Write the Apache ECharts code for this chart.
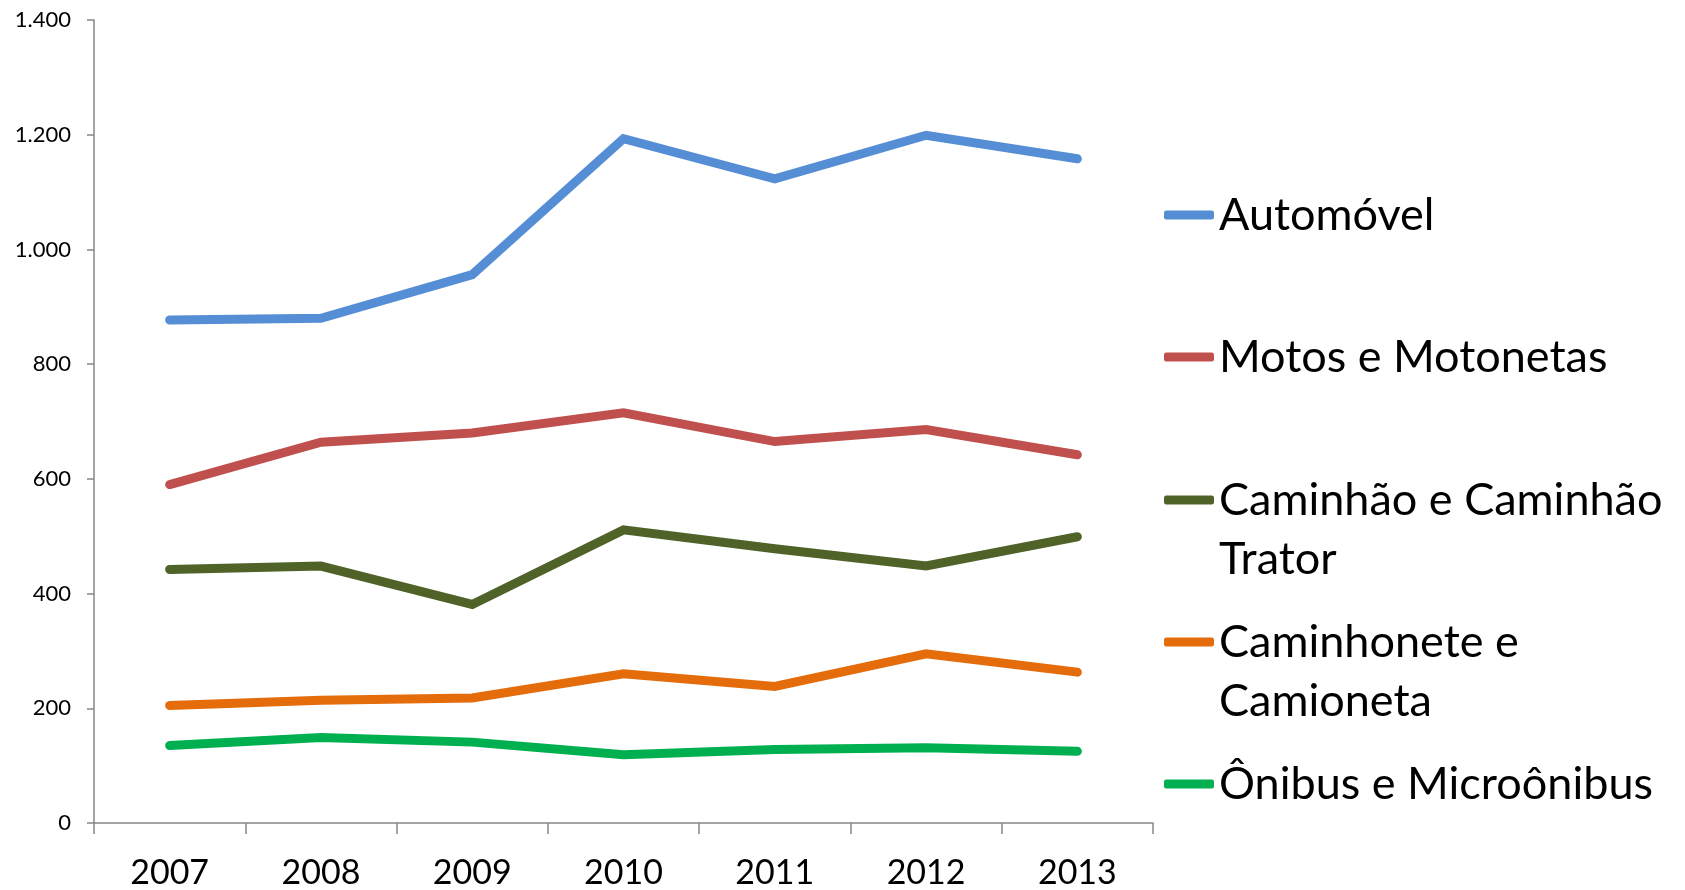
<!DOCTYPE html>
<html>
<head>
<meta charset="utf-8">
<script src="https://cdn.jsdelivr.net/npm/echarts@6/dist/echarts.min.js"></script>
<style>
html,body{margin:0;padding:0;background:#fff;}
#chart{width:1685px;height:890px;}
</style>
</head>
<body>
<div id="chart"></div>
<script>
const years = ['2007','2008','2009','2010','2011','2012','2013'];
const automovel = [877, 880, 956, 1193, 1123, 1199, 1158];
const motos = [590, 664, 680, 715, 665, 686, 642];
const caminhao = [442, 448, 381, 511, 478, 448, 499];
const caminhonete = [205, 214, 218, 260, 238, 295, 263];
const onibus = [135, 149, 141, 119, 128, 131, 125];
const seriesNames = ['Automóvel', 'Motos e Motonetas', 'Caminhão e Caminhão Trator', 'Caminhonete e Camioneta', 'Ônibus e Microônibus'];
const legendLabels = ['Automóvel', 'Motos e Motonetas', 'Caminhão e Caminhão\nTrator', 'Caminhonete e\nCamioneta', 'Ônibus e Microônibus'];
const yTicks = [0, 200, 400, 600, 800, 1000, 1200, 1400];

const colors = ['#558ED5', '#C0504D', '#4F6228', '#E46C0A', '#00B050'];
const dataSets = [automovel, motos, caminhao, caminhonete, onibus];
const FONT = 'Lato, "Open Sans", sans-serif';
const legendTops = [185.5, 327.5, 411.5, 553.5, 754.5];

const chart = echarts.init(document.getElementById('chart'));

const legends = seriesNames.map((name, i) => {
  const twoLine = legendLabels[i].indexOf('\n') >= 0;
  return {
    data: [name],
    left: 1164,
    top: legendTops[i],
    padding: 0,
    orient: 'vertical',
    icon: 'roundRect',
    itemWidth: 50,
    itemHeight: 9,
    selectedMode: false,
    // a leading blank line keeps the first text line level with the icon
    formatter: () => twoLine ? '\n' + legendLabels[i] : legendLabels[i],
    textStyle: {
      fontFamily: FONT,
      fontSize: 45,
      color: '#000',
      lineHeight: 59
    }
  };
});

chart.setOption({
  animation: false,
  backgroundColor: '#fff',
  grid: { left: 94, right: 532, top: 20, bottom: 67, containLabel: false },
  legend: legends,
  xAxis: {
    type: 'category',
    data: years,
    boundaryGap: true,
    axisLine: { show: true, lineStyle: { color: '#868686', width: 1.5 } },
    axisTick: { show: true, length: 11, inside: false, alignWithLabel: false, lineStyle: { color: '#868686', width: 1.5 } },
    axisLabel: { fontFamily: FONT, fontSize: 34, color: '#000', margin: 33, lineHeight: 34 },
    splitLine: { show: false }
  },
  yAxis: {
    type: 'value',
    min: 0,
    max: 1400,
    interval: 200,
    axisLine: { show: true, lineStyle: { color: '#868686', width: 1.5 } },
    axisTick: { show: true, length: 7, lineStyle: { color: '#868686', width: 1.5 } },
    axisLabel: {
      fontFamily: FONT, fontSize: 22, color: '#000', margin: 23,
      formatter: v => yTicks.indexOf(v) >= 0 ? String(v).replace(/\B(?=(\d{3})+(?!\d))/g, '.') : ''
    },
    splitLine: { show: false }
  },
  series: seriesNames.map((name, i) => ({
    name: name,
    type: 'line',
    data: dataSets[i],
    showSymbol: false,
    symbol: 'none',
    color: colors[i],
    lineStyle: { color: colors[i], width: 9, cap: 'round', join: 'miter' },
    emphasis: { disabled: true }
  }))
});
</script>
</body>
</html>
